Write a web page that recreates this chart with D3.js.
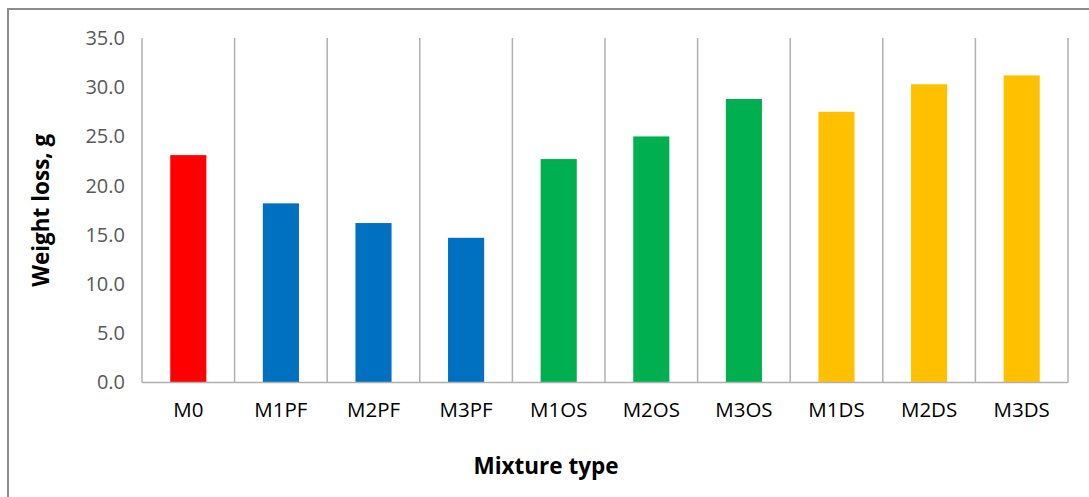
<!DOCTYPE html>
<html>
<head>
<meta charset="utf-8">
<script src="https://cdn.jsdelivr.net/npm/d3@7"></script>
<style>
  html, body { margin: 0; padding: 0; background: #fff; }
  svg { display: block; }
</style>
</head>
<body>
<svg id="chart" width="1089" height="497"></svg>
<script>
// Weight loss per mixture type
const categories = ["M0", "M1PF", "M2PF", "M3PF", "M1OS", "M2OS", "M3OS", "M1DS", "M2DS", "M3DS"];
const weightLoss = [23.1, 18.2, 16.2, 14.7, 22.7, 25.0, 28.8, 27.5, 30.3, 31.2];
const barColors = ["#FF0000", "#0070C0", "#0070C0", "#0070C0", "#00B050", "#00B050", "#00B050", "#FFC000", "#FFC000", "#FFC000"];
const yTicks = [0, 5, 10, 15, 20, 25, 30, 35];

const svg = d3.select("#chart");
const W = 1089, H = 497;
const margin = { left: 142, right: 21, top: 38, bottom: 114 };
const font = "'Open Sans', 'Noto Sans', sans-serif";

// outer frame
svg.append("rect")
  .attr("x", 8).attr("y", 9)
  .attr("width", W + 10).attr("height", H + 10)
  .attr("fill", "none").attr("stroke", "#8c8c8c").attr("stroke-width", 2);

const x = d3.scaleBand()
  .domain(categories)
  .range([margin.left, W - margin.right])
  .paddingInner(0.61).paddingOuter(0.305);

const xGrid = d3.scaleBand()
  .domain(categories)
  .range([margin.left, W - margin.right]);

const y = d3.scaleLinear()
  .domain([0, 35])
  .range([H - margin.bottom - 0.5, margin.top]);

// vertical separators between categories
const bounds = categories.map(c => xGrid(c)).concat([xGrid.range()[1]]);
svg.append("g").selectAll("line")
  .data(bounds)
  .join("line")
  .attr("x1", d => d).attr("x2", d => d)
  .attr("y1", y(35)).attr("y2", y(0))
  .attr("stroke", "#b0b0b0").attr("stroke-width", 1.5);

// bars
svg.append("g").selectAll("rect")
  .data(categories)
  .join("rect")
  .attr("x", d => x(d))
  .attr("width", x.bandwidth())
  .attr("y", (d, i) => y(weightLoss[i]))
  .attr("height", (d, i) => y(0) - y(weightLoss[i]))
  .attr("fill", (d, i) => barColors[i]);

// baseline
svg.append("line")
  .attr("x1", margin.left).attr("x2", W - margin.right)
  .attr("y1", y(0)).attr("y2", y(0))
  .attr("stroke", "#b0b0b0").attr("stroke-width", 1.5);

// y axis labels
const yAxis = d3.axisLeft(y).tickValues(yTicks).tickFormat(d3.format(".1f")).tickSize(0).tickPadding(17);
const gy = svg.append("g").attr("transform", `translate(${margin.left},0)`).call(yAxis);
gy.select(".domain").remove();
gy.selectAll("text")
  .attr("font-family", font).attr("font-size", 20).attr("fill", "#595959");

// x axis labels
const xAxis = d3.axisBottom(xGrid).tickSize(0).tickPadding(20);
const gx = svg.append("g").attr("transform", `translate(0,${y(0)})`).call(xAxis);
gx.select(".domain").remove();
gx.selectAll("text")
  .attr("font-family", font).attr("font-size", 20.5).attr("fill", "#000");

// axis titles
svg.append("text")
  .attr("x", 546).attr("y", 474)
  .attr("text-anchor", "middle")
  .attr("font-family", font).attr("font-size", 22.5).attr("font-weight", "bold")
  .attr("fill", "#000")
  .text("Mixture type");

svg.append("text")
  .attr("transform", `translate(49,${(y(0) + y(35)) / 2}) rotate(-90)`)
  .attr("text-anchor", "middle")
  .attr("font-family", font).attr("font-size", 22.5).attr("font-weight", "bold")
  .attr("fill", "#000")
  .text("Weight loss, g");
</script>
</body>
</html>
